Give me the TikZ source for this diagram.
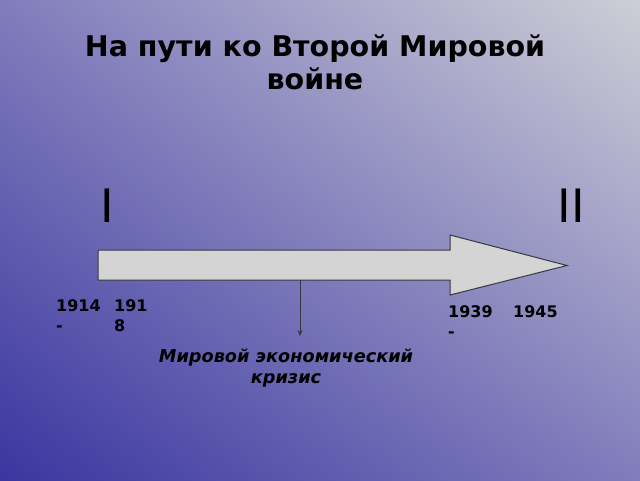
\documentclass[tikz,border=0pt]{standalone}
\usepackage{fontspec}
\setmainfont{DejaVu Sans}
\usetikzlibrary{arrows.meta,shadings}
\definecolor{bgdark}{RGB}{58,54,160}
\definecolor{bgmid}{RGB}{128,125,188}
\definecolor{bglight}{RGB}{206,206,214}
\definecolor{arrowfill}{RGB}{212,212,212}
\definecolor{arrowline}{RGB}{55,55,65}
\tikzset{
  year/.style={anchor=base west, inner sep=0pt, align=left,
    font=\fontsize{16}{20}\selectfont\bfseries},
  warnum/.style={anchor=base, inner sep=0pt, font=\fontsize{46}{46}\selectfont},
  crisisline/.style={arrowline, line width=1pt, -{Stealth[length=6pt,width=5pt]}}
}
\begin{document}
\begin{tikzpicture}[x=1pt,y=-1pt]
  \useasboundingbox (0,0) rectangle (640,480);
  \shade[lower left=bgdark, upper right=bglight, upper left=bgmid, lower right=bgmid]
    (0,0) rectangle (640,480);

  % title
  \node[anchor=base, align=center, inner sep=0pt,
    font=\fontsize{28.5}{33}\selectfont\bfseries] (title) at (315,89)
    {На пути ко Второй Мировой\\войне};

  % the big arrow
  \draw[fill=arrowfill, draw=arrowline, line width=1pt]
    (98,250) -- (450,250) -- (450,235) -- (567,265.5) -- (450,295)
    -- (450,280) -- (98,280) -- cycle;

  % wars
  \node[warnum] (first) at (107,222) {I};
  \node[warnum] (second) at (571,222) {II};

  % years
  \node[year] (y1914) at (56,331) {1914\\-};
  \node[year] (y1918) at (114,331) {191\\8};
  \node[year] (y1939) at (448,337) {1939\\-};
  \node[year] (y1945) at (513,317) {1945};

  % crisis
  \coordinate (shaftbottom) at (300,280);
  \coordinate (crisistop) at (300,336);
  \draw[crisisline] (shaftbottom) -- (crisistop);
  \node[anchor=base, align=center, inner sep=0pt,
    font=\fontsize{17.7}{21}\selectfont\bfseries\itshape] (crisis) at (286,383)
    {Мировой экономический\\кризис};
\end{tikzpicture}
\end{document}
